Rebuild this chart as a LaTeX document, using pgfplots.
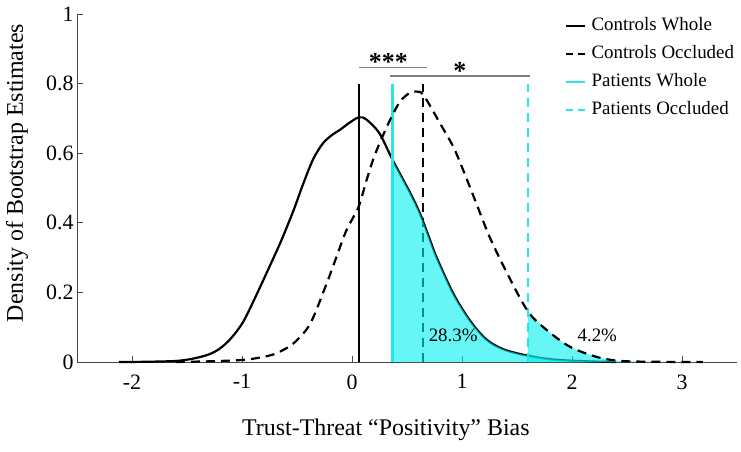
\documentclass[border=0pt]{standalone}
\usepackage{fontspec}
\setmainfont{Liberation Serif}
\usepackage{pgfplots}
\usepackage{pgfplotstable}
\pgfplotsset{compat=1.18}
\definecolor{pcyan}{RGB}{40,230,230}
\definecolor{fcyan}{RGB}{0,240,240}
\definecolor{axgray}{RGB}{70,70,70}

\pgfplotstableread{
x y
-2.12 0
-1.90 0.0005
-1.60 0.003
-1.44 0.010
-1.30 0.022
-1.20 0.039
-1.10 0.068
-0.99 0.115
-0.87 0.192
-0.75 0.274
-0.64 0.351
-0.53 0.437
-0.44 0.515
-0.35 0.585
-0.26 0.630
-0.17 0.655
-0.11 0.667
-0.03 0.686
0.06 0.703
0.13 0.697
0.25 0.657
0.37 0.580
0.53 0.485
0.62 0.425
0.71 0.350
0.77 0.300
0.92 0.197
1.07 0.120
1.22 0.065
1.38 0.036
1.60 0.018
1.83 0.007
2.13 0.002
2.40 0
}\ctrlwhole

\pgfplotstableread{
x y
-1.60 0
-1.30 0.002
-0.99 0.006
-0.80 0.015
-0.68 0.026
-0.53 0.054
-0.38 0.110
-0.23 0.226
-0.14 0.303
-0.05 0.379
0.06 0.446
0.13 0.520
0.19 0.580
0.25 0.628
0.345 0.695
0.436 0.748
0.527 0.774
0.588 0.777
0.65 0.767
0.80 0.686
0.92 0.619
1.01 0.552
1.13 0.456
1.25 0.360
1.41 0.255
1.60 0.145
1.77 0.092
1.98 0.044
2.22 0.015
2.44 0.003
2.80 0.0005
3.19 0
}\ctrlocc

\begin{document}
\begin{tikzpicture}
\useasboundingbox (0,0) rectangle (741bp,452bp);
\begin{axis}[
  at={(77bp,90bp)}, anchor=south west,
  width=660bp, height=348bp, scale only axis,
  xmin=-2.5, xmax=3.5, ymin=0, ymax=1,
  axis x line*=bottom, axis y line*=left,
  axis line style={axgray, line width=0.8bp, -},
  tick align=inside,
  major tick length=6bp,
  tick style={axgray, line width=0.8bp},
  xtick={-2,-1,0,1,2,3},
  ytick={0,0.2,0.4,0.6,0.8,1},
  /pgf/number format/assume math mode=true,
  /pgf/number format/fixed,
  tick label style={font=\fontsize{22}{26}\selectfont},
  xticklabel style={yshift=-9bp},
  xlabel={Trust-Threat “Positivity” Bias},
  ylabel={Density of Bootstrap Estimates},
  label style={font=\fontsize{24}{28}\selectfont},
  xlabel style={at={(axis description cs:0.468,-0.2098)}, anchor=base},
  ylabel style={at={(axis description cs:-0.0909,0.543)}, anchor=center},
  clip=false,
  legend cell align=left,
  legend image code/.code={\draw[#1, line width=2.2bp] (0bp,0bp) -- (19bp,0bp); \path (22bp,0bp);},
  legend style={at={(axis description cs:0.735,1.003)}, anchor=north west,
    draw=none, fill=none, font=\fontsize{19}{22}\selectfont,
    row sep=7bp, nodes={inner sep=2bp, text height=13bp, text depth=4bp}},
]
% controls whole curve
\addplot[black, line width=2.2bp, smooth, forget plot] table[x=x,y=y] {\ctrlwhole};
% vertical lines
\addplot[black, line width=2bp] coordinates {(0.06,0) (0.06,0.8)};
\addlegendentry{Controls Whole}
\addplot[black, line width=2bp, dash pattern=on 9bp off 6bp, legend image post style={dash pattern=on 7bp off 5bp}] coordinates {(0.65,0) (0.65,0.8)};
\addlegendentry{Controls Occluded}
\addplot[pcyan, line width=2.4bp] coordinates {(0.37,0) (0.37,0.8)};
\addlegendentry{Patients Whole}
\addplot[pcyan, line width=2.4bp, dash pattern=on 9bp off 6bp, legend image post style={dash pattern=on 7bp off 5bp}] coordinates {(1.6,0) (1.6,0.8)};
\addlegendentry{Patients Occluded}
% fills
\addplot[draw=none, fill=fcyan, fill opacity=0.6, smooth, restrict x to domain=0.37:4, forget plot] table[x=x,y=y] {\ctrlwhole} \closedcycle;
\addplot[draw=none, fill=fcyan, fill opacity=0.6, smooth, restrict x to domain=1.6:4, forget plot] table[x=x,y=y] {\ctrlocc} \closedcycle;
% controls occluded curve
\addplot[black, line width=2.2bp, smooth, dash pattern=on 9bp off 6bp, forget plot] table[x=x,y=y] {\ctrlocc};
% significance bars
\addplot[gray, line width=1.2bp, forget plot] coordinates {(0.06,0.846) (0.68,0.846)};
\addplot[gray, line width=1.2bp, forget plot] coordinates {(0.345,0.822) (1.62,0.822)};
\node[font=\fontsize{26}{30}\selectfont\bfseries, anchor=base] at (axis cs:0.33,0.838) {***};
\node[font=\fontsize{26}{30}\selectfont\bfseries, anchor=base] at (axis cs:0.98,0.812) {*};
% percentages
\node[font=\fontsize{19}{22}\selectfont] at (axis cs:0.92,0.078) {28.3\%};
\node[font=\fontsize{19}{22}\selectfont] at (axis cs:2.23,0.078) {4.2\%};
\end{axis}
\end{tikzpicture}
\end{document}
